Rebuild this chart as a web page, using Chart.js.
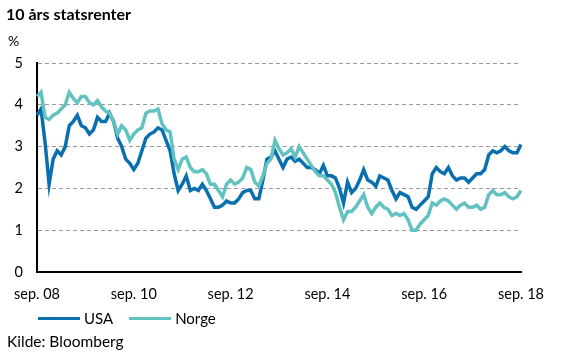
<!DOCTYPE html>
<html>
<head>
<meta charset="utf-8">
<script src="https://cdn.jsdelivr.net/npm/chart.js@4"></script>
<style>
  html, body { margin: 0; padding: 0; background: #fff; }
  #wrap { position: relative; width: 561px; height: 356px; font-family: Lato, "Open Sans", sans-serif; color: #000; }
  canvas { position: absolute; left: 0; top: 0; }
  .t { position: absolute; white-space: nowrap; }
  #title { left: 6px; top: 4px; font-size: 16px; font-weight: bold; }
  #unit { left: 8px; top: 32px; font-size: 14px; }
  #legend { left: 38px; top: 309px; font-size: 15px; display: flex; align-items: center; }
  .sw { display: inline-block; width: 42px; height: 3px; margin-right: 4px; }
  #src { left: 7px; top: 332px; font-size: 15.5px; }
</style>
</head>
<body>
<div id="wrap">
  <canvas id="c" width="561" height="356"></canvas>
  <div class="t" id="title">10 års statsrenter</div>
  <div class="t" id="unit">%</div>
  <div class="t" id="legend">
    <span class="sw" style="background:#0a6fae"></span><span>USA</span>
    <span class="sw" style="background:#62c2c0;margin-left:16px"></span><span>Norge</span>
  </div>
  <div class="t" id="src">Kilde: Bloomberg</div>
</div>
<script>
// Month names (Norwegian) and category labels Sep 2008 .. Sep 2018
const monthNames = ["jan","feb","mar","apr","mai","jun","jul","aug","sep","okt","nov","des"];
const categories = [];
for (let i = 0; i <= 120; i++) {
  const m = (8 + i) % 12;
  const y = 2008 + Math.floor((8 + i) / 12);
  categories.push(monthNames[m] + ". " + String(y % 100).padStart(2, "0"));
}
const tickEvery = 24;
const yTicks = [0, 1, 2, 3, 4, 5];

// 10-year government bond yields, monthly
const usa = [
  3.75,3.9,3.1,2.1,2.7,2.9,2.8,3.0,3.5,3.6,3.75,3.5,
  3.45,3.3,3.4,3.7,3.6,3.6,3.8,3.6,3.2,3.0,2.7,2.6,
  2.45,2.6,2.9,3.2,3.3,3.35,3.45,3.4,3.15,2.9,2.35,1.95,
  2.1,2.3,1.95,2.0,1.95,2.1,1.95,1.75,1.55,1.55,1.6,1.7,
  1.65,1.65,1.75,1.9,1.95,1.95,1.75,1.75,2.2,2.7,2.75,2.9,
  2.7,2.5,2.7,2.75,2.65,2.7,2.6,2.5,2.5,2.45,2.35,2.55,
  2.3,2.3,2.25,2.0,1.65,2.15,1.9,2.0,2.2,2.45,2.2,2.15,
  2.05,2.3,2.25,2.2,1.95,1.75,1.9,1.85,1.8,1.55,1.5,1.6,
  1.7,1.8,2.35,2.5,2.4,2.35,2.5,2.3,2.2,2.25,2.25,2.15,
  2.25,2.35,2.35,2.45,2.8,2.9,2.85,2.9,3.0,2.9,2.85,2.85,
  3.05
];
const norge = [
  4.2,4.3,3.7,3.65,3.75,3.8,3.9,4.0,4.3,4.15,4.05,4.2,
  4.2,4.05,4.0,4.1,3.95,3.85,3.8,3.6,3.3,3.5,3.4,3.15,
  3.3,3.4,3.45,3.8,3.85,3.85,3.9,3.55,3.4,3.35,2.7,2.45,
  2.7,2.75,2.5,2.4,2.4,2.45,2.35,2.1,2.1,1.95,1.8,2.1,
  2.2,2.1,2.15,2.25,2.5,2.45,2.15,2.05,2.3,2.6,2.7,3.15,
  2.95,2.8,2.85,2.95,2.75,3.0,2.85,2.7,2.55,2.4,2.3,2.3,
  2.2,2.1,1.9,1.55,1.25,1.45,1.45,1.55,1.7,1.85,1.55,1.4,
  1.55,1.65,1.55,1.5,1.35,1.4,1.35,1.4,1.25,1.0,1.0,1.15,
  1.25,1.35,1.65,1.6,1.7,1.75,1.7,1.6,1.5,1.6,1.65,1.55,
  1.55,1.6,1.5,1.55,1.85,1.95,1.85,1.85,1.9,1.8,1.75,1.8,
  1.95
];

const FONT = { family: "Lato, 'Open Sans', sans-serif", size: 14.5 };

new Chart(document.getElementById("c"), {
  type: "line",
  data: {
    labels: categories,
    datasets: [
      { label: "Norge", data: norge, borderColor: "#62c2c0", borderWidth: 3.5, pointRadius: 0, tension: 0, fill: false },
      { label: "USA", data: usa, borderColor: "#0a6fae", borderWidth: 3.5, pointRadius: 0, tension: 0, fill: false }
    ]
  },
  options: {
    responsive: false,
    devicePixelRatio: 1,
    animation: false,
    layout: { padding: { left: 0, right: 40, top: 63, bottom: 46 } },
    plugins: { legend: { display: false }, tooltip: { enabled: false }, title: { display: false } },
    scales: {
      x: {
        type: "category",
        offset: false,
        afterFit: (s) => { s.height = 38; },
        grid: { display: false, drawTicks: false },
        border: { display: true, color: "#000", width: 2 },
        ticks: {
          autoSkip: false, maxRotation: 0, minRotation: 0, padding: 14,
          color: "#000", font: FONT,
          callback: function (v, i) { return i % tickEvery === 0 ? categories[i] : null; }
        }
      },
      y: {
        min: yTicks[0], max: yTicks[yTicks.length - 1],
        afterFit: (s) => { s.width = 37; },
        afterBuildTicks: (s) => { s.ticks = yTicks.map(v => ({ value: v })); },
        grid: { drawTicks: false, color: "#9a9a9a", lineWidth: 1 },
        border: { display: true, color: "#000", width: 2, dash: [4, 3] },
        ticks: { padding: 14, color: "#000", font: FONT, stepSize: 1 }
      }
    }
  }
});
</script>
</body>
</html>
